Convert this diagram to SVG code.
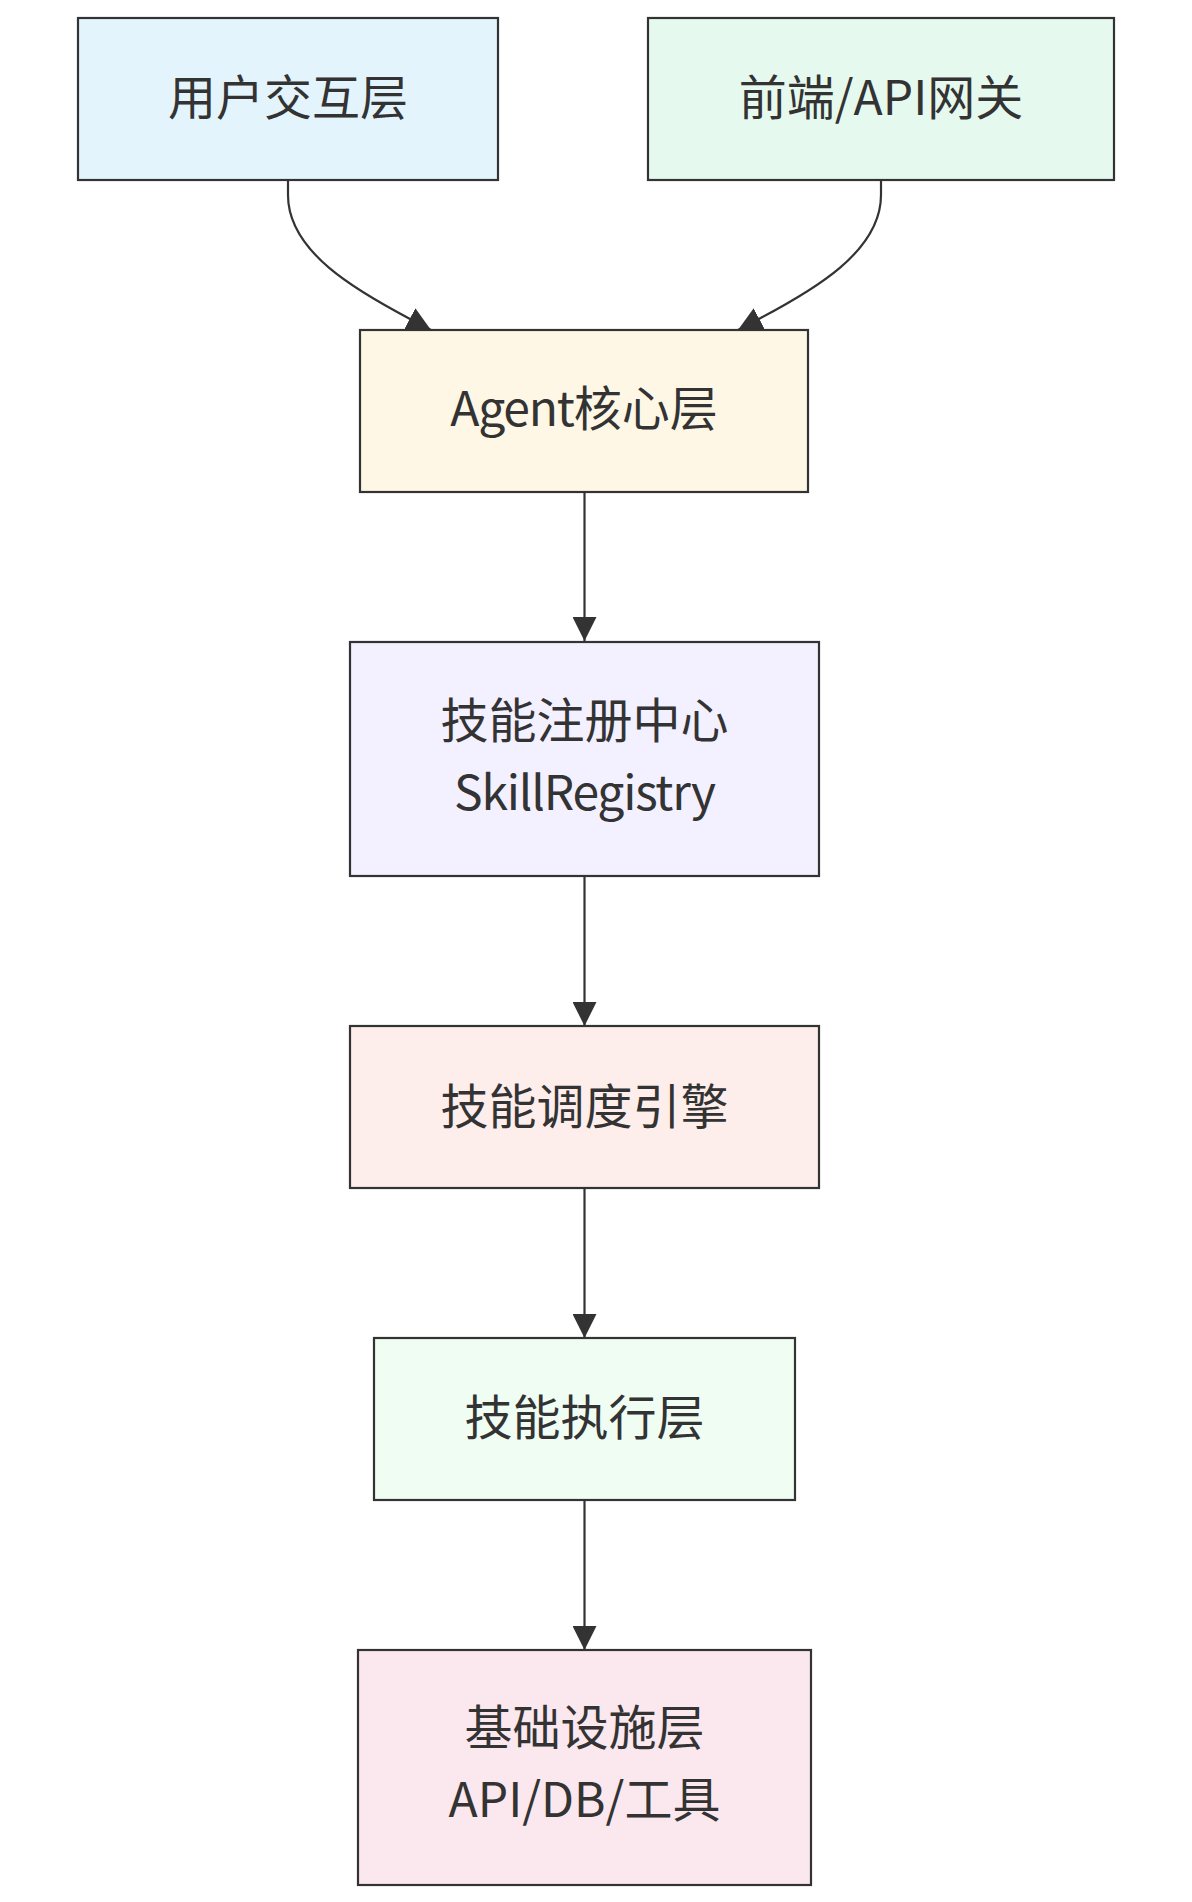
<svg xmlns="http://www.w3.org/2000/svg" width="1192" height="1902" viewBox="0 0 1192 1902">
<style>
.node rect{stroke:#333333;stroke-width:2.2}
.node text{font-family:"Noto Sans CJK SC","Noto Sans",sans-serif;font-size:48px;fill:#333333;text-anchor:middle}
.tight{letter-spacing:-1.2px}
.edge{fill:none;stroke:#333333;stroke-width:2.2;marker-end:url(#arrow)}
</style>
<defs>
<marker id="arrow" viewBox="0 0 10 10" refX="10" refY="5" markerUnits="userSpaceOnUse" markerWidth="24" markerHeight="24" orient="auto">
<path d="M0,0 L10,5 L0,10 z" fill="#333333"/>
</marker>
</defs>
<rect width="1192" height="1902" fill="#ffffff"/>
<g id="connectors">
<path class="edge" d="M288,180 L288,195 C288,252 357,291 410.5,319.2 L431,330"/>
<path class="edge" d="M881,180 L881,195 C881,252 812,291 758.5,319.2 L738,330"/>
<path class="edge" d="M584.5,492 L584.5,641"/>
<path class="edge" d="M584.5,876 L584.5,1026"/>
<path class="edge" d="M584.5,1188 L584.5,1338"/>
<path class="edge" d="M584.5,1500 L584.5,1650"/>
</g>
<g id="user" class="node">
<rect x="78" y="18" width="420" height="162" fill="#e3f4fd"/>
<text x="288" y="115">用户交互层</text>
</g>
<g id="gateway" class="node">
<rect x="648" y="18" width="466" height="162" fill="#e6f9ef"/>
<text x="881" y="115">前端/API网关</text>
</g>
<g id="agent" class="node">
<rect x="360" y="330" width="448" height="162" fill="#fff7e6"/>
<text x="584" y="426"><tspan class="tight">Agent</tspan>核心层</text>
</g>
<g id="registry" class="node">
<rect x="350" y="642" width="469" height="234" fill="#f3f0ff"/>
<text x="584.5" y="738">技能注册中心</text>
<text x="584.5" y="810" class="tight">SkillRegistry</text>
</g>
<g id="scheduler" class="node">
<rect x="350" y="1026" width="469" height="162" fill="#fdedeb"/>
<text x="584.5" y="1124">技能调度引擎</text>
</g>
<g id="executor" class="node">
<rect x="374" y="1338" width="421" height="162" fill="#effdf3"/>
<text x="584.5" y="1435">技能执行层</text>
</g>
<g id="infra" class="node">
<rect x="358" y="1650" width="453" height="235" fill="#fbe7ee"/>
<text x="584.5" y="1745">基础设施层</text>
<text x="584.5" y="1817">API/DB/工具</text>
</g>
</svg>
